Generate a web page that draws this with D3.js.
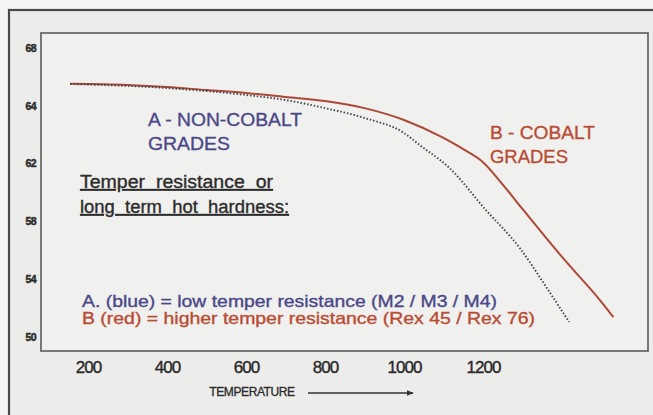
<!DOCTYPE html>
<html>
<head>
<meta charset="utf-8">
<script src="https://cdn.jsdelivr.net/npm/d3@7"></script>
<style>
  html, body { margin: 0; padding: 0; background: #f4f4f2; }
  svg { display: block; font-family: "Liberation Sans", Arial, sans-serif; }
</style>
</head>
<body>
<div id="svg-container"></div>
<script>
// data
const yTicks = [68, 64, 62, 58, 54, 50];
const xTicks = [200, 400, 600, 800, 1000, 1200];

// B - cobalt grades (red, solid)
const tempB = [155, 300, 400, 500, 600, 700, 800, 900, 1000, 1100, 1150, 1200, 1250, 1300, 1400, 1500, 1530];
const hardB = [65.52, 65.44, 65.3, 65.09, 64.89, 64.61, 64.33, 63.92, 63.51, 62.89, 62.5, 62.05, 60.55, 58.86, 55.54, 52.42, 51.38];

// A - non-cobalt grades (blue, dotted)
const tempA = [155, 400, 600, 700, 800, 900, 1000, 1040, 1115, 1205, 1295, 1360, 1418];
const hardA = [65.51, 65.23, 64.75, 64.4, 63.92, 63.58, 63.06, 62.64, 61.7, 58.86, 56.09, 53.46, 51.04];

const width = 653;
const height = 415;

const svg = d3.select("#svg-container").append("svg")
  .attr("width", width)
  .attr("height", height);

// background + frames
svg.append("rect").attr("x", 0).attr("y", 0).attr("width", width).attr("height", height).attr("fill", "#f4f4f2");
svg.append("rect").attr("x", 9).attr("y", 10).attr("width", 660).attr("height", 420)
  .attr("fill", "#ececea").attr("stroke", "#4a4a4a").attr("stroke-width", 2.2);

const frame = { left: 41, top: 33, right: 648, bottom: 351 };
svg.append("rect")
  .attr("x", frame.left).attr("y", frame.top)
  .attr("width", frame.right - frame.left).attr("height", frame.bottom - frame.top)
  .attr("fill", "#f0f0ee").attr("stroke", "#5a5a5a").attr("stroke-width", 1.6);

// scales
const xScale = d3.scaleLinear().domain([200, 1200]).range([88, 483]);

// labels are spaced evenly even though the values are not
const yPoint = d3.scalePoint().domain(yTicks).range([48, 337]);
const yScale = d3.scaleLinear().domain(yTicks).range(yTicks.map((d) => yPoint(d)));

// axes
const yAxis = d3.axisLeft(yPoint).tickSize(0).tickPadding(0);
const gy = svg.append("g").attr("transform", "translate(36,0)").call(yAxis);
gy.select(".domain").remove();
gy.selectAll("text")
  .attr("font-family", "'Liberation Sans', Arial, sans-serif")
  .attr("font-size", 10.5).attr("font-weight", "bold").attr("fill", "#2e2e2e")
  .attr("letter-spacing", -0.6)
  .attr("stroke", "#2e2e2e").attr("stroke-width", 0.5);

const xAxis = d3.axisBottom(xScale).tickValues(xTicks).tickFormat(d3.format("d"))
  .tickSize(0).tickPadding(0);
const gx = svg.append("g").attr("transform", "translate(0,361)").call(xAxis);
gx.select(".domain").remove();
gx.selectAll("text")
  .attr("font-family", "'Liberation Sans', Arial, sans-serif")
  .attr("font-size", 17).attr("letter-spacing", -0.9).attr("fill", "#2a2a2a")
  .attr("stroke", "#2a2a2a").attr("stroke-width", 0.4);

// axis title + arrow
svg.append("text").attr("x", 252).attr("y", 396).attr("text-anchor", "middle")
  .attr("font-size", 12).attr("fill", "#2a2a2a").attr("letter-spacing", -0.4)
  .attr("stroke", "#2a2a2a").attr("stroke-width", 0.3)
  .text("TEMPERATURE");

svg.append("defs").append("marker")
  .attr("id", "arrow").attr("viewBox", "0 0 10 10").attr("refX", 9).attr("refY", 5)
  .attr("markerWidth", 5).attr("markerHeight", 5).attr("orient", "auto")
  .append("path").attr("d", "M0,1L10,5L0,9Z").attr("fill", "#333");
svg.append("line").attr("x1", 308).attr("x2", 413).attr("y1", 393).attr("y2", 393)
  .attr("stroke", "#333").attr("stroke-width", 1.4).attr("marker-end", "url(#arrow)");

// curves
const line = d3.line()
  .x((d) => xScale(d[0]))
  .y((d) => yScale(d[1]))
  .curve(d3.curveMonotoneX);

svg.append("path")
  .datum(d3.zip(tempB, hardB))
  .attr("d", line)
  .attr("fill", "none").attr("stroke", "#ad4838").attr("stroke-width", 2);

svg.append("path")
  .datum(d3.zip(tempA, hardA))
  .attr("d", line)
  .attr("fill", "none").attr("stroke", "#44444e").attr("stroke-width", 1.9)
  .attr("stroke-dasharray", "1.5 1.9");

// annotations
const blue = "#4a4888";
const red = "#b84c34";

function stretched(x, y, str, len, size, color) {
  return svg.append("text")
    .attr("x", x).attr("y", y)
    .attr("font-size", size).attr("fill", color)
    .attr("stroke", color).attr("stroke-width", 0.35)
    .attr("textLength", len).attr("lengthAdjust", "spacingAndGlyphs")
    .text(str);
}

stretched(148, 126, "A - NON-COBALT", 154, 18.5, blue);
stretched(148, 150, "GRADES", 82, 18.5, blue);

stretched(490, 139, "B - COBALT", 105, 18.5, red);
stretched(490, 163, "GRADES", 78, 18.5, red);

stretched(80, 188, "Temper resistance or", 193, 18, "#2c2c2c")
  .attr("text-decoration", "underline").attr("word-spacing", 5);
stretched(80, 213, "long term hot hardness:", 209, 18, "#2c2c2c")
  .attr("text-decoration", "underline").attr("word-spacing", 5);

stretched(82, 307, "A. (blue) = low temper resistance (M2 / M3 / M4)", 415, 16.5, blue);
stretched(82, 324, "B (red) = higher temper resistance (Rex 45 / Rex 76)", 453, 16.5, red);
</script>
</body>
</html>
